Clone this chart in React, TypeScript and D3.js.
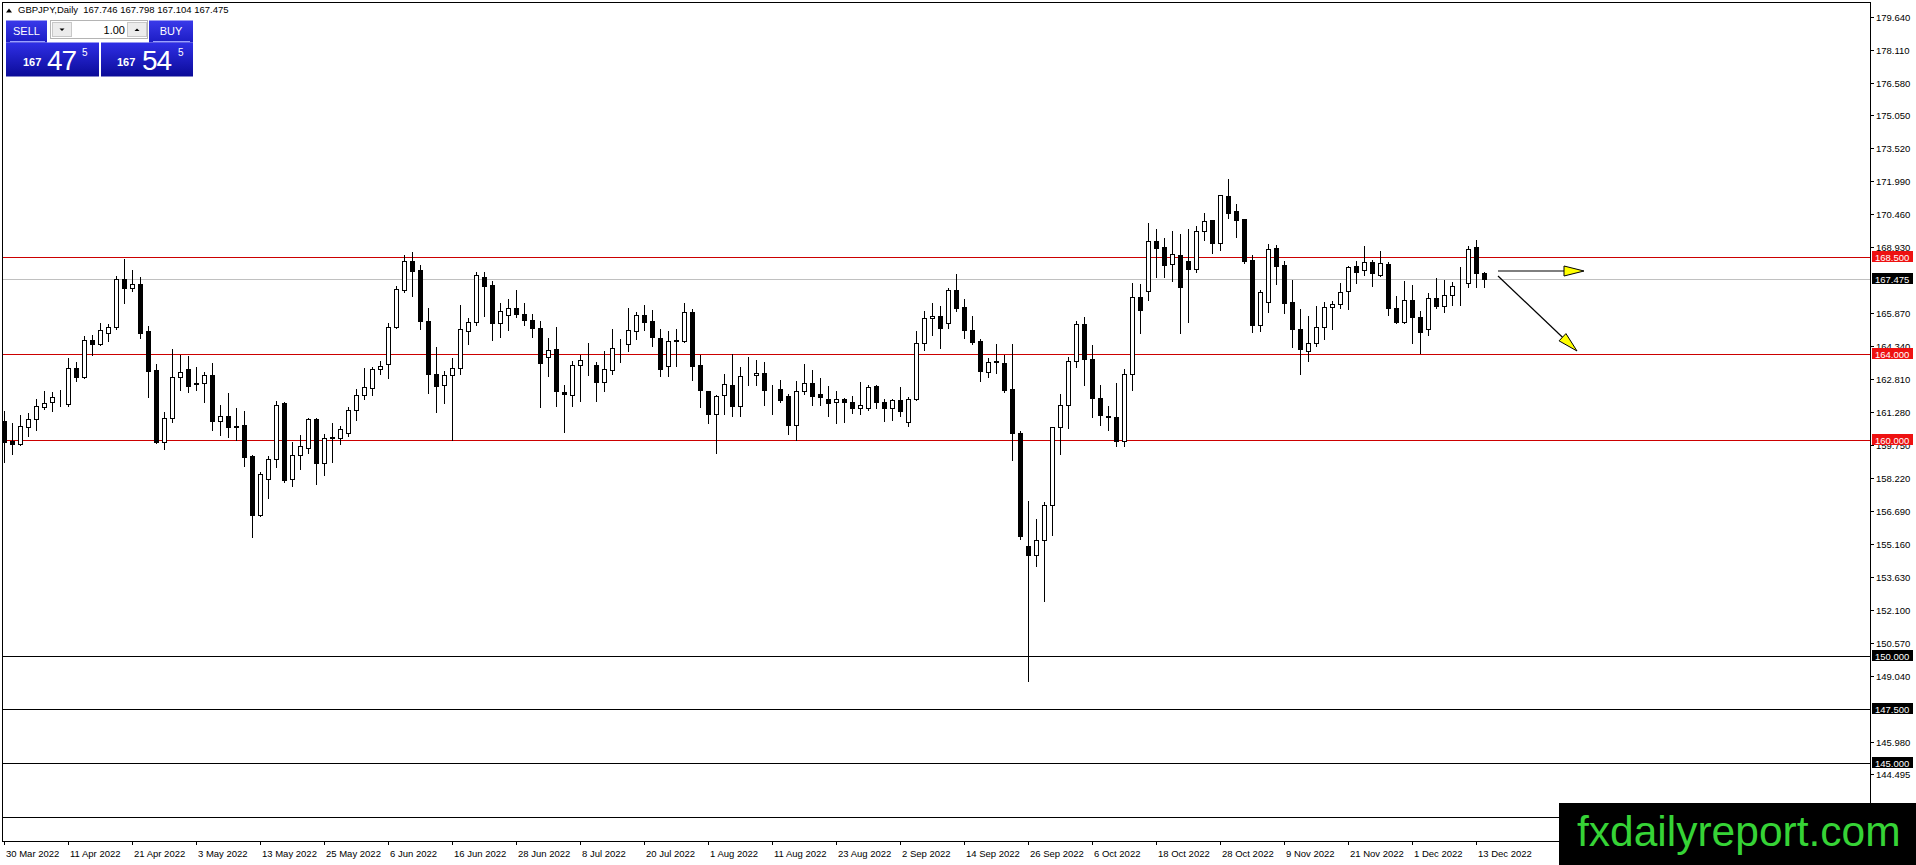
import React from 'react'
import * as d3 from 'd3'

// GBPJPY daily candles, 30 Mar 2022 .. 15 Dec 2022
const opens = [
  160.86, 159.95, 159.83, 160.6, 160.99, 161.53, 161.78, 161.98, 161.65, 163.32,
  162.92, 164.62, 164.45, 164.98, 165.24, 167.48, 167.06, 167.22, 165.04, 163.23,
  159.91, 161.03, 162.92, 163.28, 162.6, 162.64, 163.02, 160.88, 161.13, 160.63,
  160.67, 159.27, 156.5, 158.2, 159.12, 161.69, 158.19, 159.32, 159.63, 160.98,
  158.93, 160.1, 160.1, 160.33, 161.41, 162.09, 162.42, 163.3, 163.53, 165.26,
  166.96, 168.31, 167.86, 165.53, 163.07, 162.53, 163.02, 163.35, 165.07, 165.47,
  167.58, 167.18, 165.44, 165.81, 166.14, 165.86, 165.58, 165.21, 163.83, 164.2,
  162.23, 162.08, 163.49, 163.43, 163.46, 162.7, 163.26, 164.3, 164.47, 165.05,
  165.78, 165.53, 164.74, 163.43, 164.6, 164.6, 165.95, 163.46, 162.25, 161.19,
  162.08, 162.57, 161.57, 163.05, 163.02, 163.12, 162.36, 162.34, 162.03, 160.68,
  162.26, 162.65, 162.11, 161.88, 161.77, 161.92, 161.78, 161.49, 161.49, 162.48,
  161.78, 161.47, 161.86, 160.84, 161.91, 164.51, 165.67, 165.77, 165.44, 166.95,
  166.17, 165.09, 164.59, 163.16, 163.64, 163.58, 162.34, 160.32, 155.07, 154.66,
  155.35, 156.99, 160.6, 161.62, 163.67, 165.38, 163.75, 161.94, 161.1, 161.06,
  159.95, 163.05, 166.62, 166.93, 169.23, 168.93, 168.15, 168.56, 168.3, 167.94,
  169.69, 170.2, 169.15, 171.31, 170.61, 170.24, 168.35, 165.34, 166.42, 168.89,
  168.11, 166.4, 165.15, 164.12, 164.48, 165.24, 166.18, 166.3, 166.93, 168.07,
  167.89, 168.24, 167.64, 168.16, 166.12, 165.46, 166.5, 165.69, 165.15, 166.58,
  166.23, 166.7, 167.2, 167.27, 168.93, 167.746,
]
const highs = [
  161.33, 160.8, 161.14, 161.27, 161.92, 162.26, 162.21, 162.3, 163.8, 163.6,
  164.82, 164.85, 165.42, 165.36, 167.6, 168.38, 167.87, 167.56, 165.27, 163.54,
  161.3, 164.2, 163.96, 163.88, 163.4, 163.16, 163.58, 161.6, 162.16, 161.5,
  161.32, 159.3, 158.5, 159.27, 161.8, 161.77, 159.9, 160.22, 161.0, 161.0,
  160.28, 160.79, 160.64, 161.52, 162.34, 163.32, 163.4, 163.66, 165.44, 167.15,
  168.57, 168.74, 168.11, 166.14, 164.33, 163.18, 163.78, 166.25, 165.66, 167.81,
  167.81, 167.38, 166.34, 166.53, 166.96, 166.34, 165.83, 165.52, 164.74, 165.26,
  162.57, 163.66, 163.92, 164.48, 163.61, 164.12, 165.16, 164.7, 166.11, 165.95,
  166.25, 166.03, 165.13, 165.05, 165.13, 166.34, 166.09, 163.92, 162.27, 162.08,
  163.04, 163.97, 163.38, 163.83, 163.7, 163.63, 162.53, 162.8, 162.11, 162.73,
  163.53, 163.24, 162.85, 162.5, 162.28, 161.95, 162.03, 162.67, 162.57, 162.57,
  161.88, 161.88, 162.47, 161.97, 165.07, 166.0, 166.34, 166.22, 167.04, 167.69,
  166.53, 165.75, 164.67, 163.81, 164.43, 163.92, 164.43, 160.4, 157.19, 156.35,
  157.11, 160.62, 162.14, 163.84, 165.54, 165.72, 164.41, 162.56, 161.56, 162.64,
  163.3, 167.27, 167.22, 170.07, 169.78, 169.35, 169.69, 169.55, 169.77, 169.92,
  170.55, 170.22, 171.38, 172.1, 170.94, 170.26, 168.58, 166.96, 169.09, 169.02,
  168.31, 167.42, 166.07, 165.74, 166.2, 166.38, 166.43, 167.3, 168.07, 168.32,
  168.99, 168.35, 168.78, 168.27, 166.66, 167.38, 167.19, 166.0, 166.81, 167.49,
  167.42, 167.32, 168.01, 168.99, 169.27, 167.798,
]
const lows = [
  158.98, 159.37, 159.78, 160.18, 160.45, 161.42, 161.33, 161.58, 161.58, 162.73,
  162.87, 163.96, 164.42, 164.59, 165.15, 166.37, 166.91, 164.74, 161.99, 159.88,
  159.6, 160.83, 162.3, 162.22, 162.31, 161.75, 160.45, 160.25, 160.12, 160.0,
  158.78, 155.52, 156.45, 157.3, 158.74, 158.05, 157.85, 158.67, 159.4, 157.95,
  158.36, 158.96, 159.83, 160.2, 160.91, 161.9, 162.08, 163.04, 162.88, 165.21,
  166.87, 166.68, 165.13, 162.19, 161.29, 161.72, 160.0, 163.04, 164.47, 165.35,
  165.75, 164.64, 164.78, 165.1, 165.72, 165.35, 164.78, 161.52, 162.96, 161.57,
  160.36, 161.57, 161.8, 163.0, 161.8, 162.29, 163.07, 163.61, 164.12, 164.67,
  165.1, 164.36, 162.96, 162.96, 163.43, 164.55, 162.8, 161.52, 160.79, 159.4,
  161.19, 161.1, 161.1, 162.53, 162.57, 161.64, 161.22, 161.75, 160.29, 160.0,
  162.14, 161.64, 161.6, 161.13, 160.78, 160.82, 161.26, 161.18, 161.41, 161.47,
  160.87, 160.91, 161.1, 160.64, 161.83, 164.17, 164.87, 164.25, 165.18, 165.98,
  164.74, 164.43, 162.73, 162.93, 163.12, 162.22, 159.09, 155.41, 148.82, 154.15,
  152.53, 155.57, 159.36, 160.54, 163.36, 162.56, 161.05, 160.71, 160.44, 159.7,
  159.7, 162.3, 164.95, 166.49, 167.57, 167.57, 167.37, 164.95, 165.49, 167.81,
  169.27, 168.69, 168.81, 170.31, 169.43, 168.22, 164.99, 165.06, 165.95, 167.23,
  165.91, 164.33, 163.07, 163.66, 164.35, 164.69, 165.15, 166.12, 166.07, 167.3,
  167.66, 167.12, 167.61, 165.81, 165.44, 165.44, 164.51, 164.01, 164.89, 166.12,
  165.92, 166.24, 166.27, 167.09, 167.09, 167.104,
]
const closes = [
  159.91, 159.83, 160.63, 160.99, 161.56, 161.73, 161.98, 162.0, 163.32, 162.92,
  164.62, 164.45, 165.12, 165.25, 167.48, 167.06, 167.22, 164.96, 163.2, 159.91,
  161.03, 162.94, 163.17, 162.5, 162.65, 163.02, 160.87, 161.09, 160.59, 160.6,
  159.21, 156.5, 158.43, 159.1, 161.63, 158.16, 159.32, 159.74, 160.98, 158.93,
  160.1, 160.12, 160.51, 161.41, 162.09, 162.47, 163.3, 163.43, 165.26, 166.99,
  168.31, 167.84, 165.53, 163.05, 162.5, 163.02, 163.35, 165.16, 165.47, 167.67,
  167.15, 165.44, 165.97, 166.14, 165.86, 165.58, 165.21, 163.58, 164.19, 162.26,
  162.14, 163.49, 163.72, 163.41, 162.68, 163.27, 164.28, 164.32, 165.12, 165.78,
  165.49, 164.78, 163.3, 164.6, 164.62, 165.95, 163.43, 162.31, 161.19, 162.06,
  162.6, 161.57, 162.98, 163.07, 163.12, 162.31, 162.34, 161.84, 160.68, 162.28,
  162.65, 162.06, 161.97, 161.69, 161.92, 161.75, 161.47, 161.6, 162.47, 161.77,
  161.47, 161.86, 161.33, 161.91, 164.51, 165.67, 165.77, 165.18, 166.95, 166.12,
  165.1, 164.54, 163.19, 163.63, 163.6, 162.31, 160.3, 155.54, 154.66, 155.38,
  156.96, 160.6, 161.62, 163.67, 165.38, 163.75, 161.93, 161.14, 161.08, 159.95,
  163.05, 166.62, 166.03, 169.23, 168.92, 168.11, 168.61, 167.08, 167.94, 169.69,
  170.17, 169.15, 171.36, 170.55, 170.2, 168.31, 165.34, 166.85, 168.84, 168.08,
  166.34, 165.14, 164.2, 164.48, 165.24, 166.18, 166.3, 166.87, 168.01, 167.81,
  168.24, 167.73, 168.19, 166.12, 165.46, 166.5, 165.69, 165.0, 166.58, 166.2,
  166.7, 167.16, 167.21, 168.88, 167.73, 167.475,
]

// one date label every 8 bars
const dateLabels = [
  '30 Mar 2022', '11 Apr 2022', '21 Apr 2022', '3 May 2022', '13 May 2022', '25 May 2022',
  '6 Jun 2022', '16 Jun 2022', '28 Jun 2022', '8 Jul 2022', '20 Jul 2022', '1 Aug 2022',
  '11 Aug 2022', '23 Aug 2022', '2 Sep 2022', '14 Sep 2022', '26 Sep 2022', '6 Oct 2022',
  '18 Oct 2022', '28 Oct 2022', '9 Nov 2022', '21 Nov 2022', '1 Dec 2022', '13 Dec 2022',
]
const labelEvery = 8

const priceTicks = [
  '179.640', '178.110', '176.580', '175.050', '173.520', '171.990', '170.460', '168.930',
  '167.400', '165.870', '164.340', '162.810', '161.280', '159.750', '158.220', '156.690',
  '155.160', '153.630', '152.100', '150.570', '149.040', '147.510', '145.980', '144.495',
]

const redLevels = [168.5, 164.0, 160.0]
const blackLevels = [150.0, 147.5, 145.0, 142.5]
const lastPrice = 167.475
const headerText = 'GBPJPY,Daily  167.746 167.798 167.104 167.475'

const W = 1916
const H = 865
const left = 2
const top = 2
const right = 1870
const bottom = 841
const font = "'Liberation Sans', Arial, sans-serif"

function Candles({ x, y }: { x: d3.ScaleLinear<number, number>; y: d3.ScaleLinear<number, number> }) {
  return (
    <g shapeRendering="crispEdges">
      {opens.map((o, i) => {
        const cx = Math.round(x(i))
        const c = closes[i]
        const bull = c >= o
        const yTop = Math.round(y(Math.max(o, c)))
        const yBot = Math.round(y(Math.min(o, c)))
        return (
          <g key={i}>
            <line x1={cx + 0.5} x2={cx + 0.5} y1={Math.round(y(highs[i]))} y2={Math.round(y(lows[i])) + 1} stroke="#000" />
            <rect x={cx - 1.5} y={yTop + 0.5} width={4} height={Math.max(0, yBot - yTop)}
              fill={bull ? '#fff' : '#000'} stroke="#000" />
          </g>
        )
      })}
    </g>
  )
}

function LevelLabel({ yv, text, fill }: { yv: number; text: string; fill: string }) {
  return (
    <g>
      <rect x={right + 2} y={yv - 6} width={41} height={11} fill={fill} />
      <text x={right + 5} y={yv + 3.5} fontSize={9.5} fill="#fff" fontFamily={font}>{text}</text>
    </g>
  )
}

function TradePanel() {
  return (
    <g fontFamily={font}>
      <defs>
        <linearGradient id="blueBox" x1="0" y1="0" x2="0" y2="1">
          <stop offset="0" stopColor="#2f2fe6" />
          <stop offset="1" stopColor="#0b0b98" />
        </linearGradient>
        <linearGradient id="blueBtn" x1="0" y1="0" x2="0" y2="1">
          <stop offset="0" stopColor="#3a3aea" />
          <stop offset="1" stopColor="#1c1cc4" />
        </linearGradient>
      </defs>
      {/* sell / buy buttons */}
      <rect x={6} y={20.5} width={41} height={22} fill="url(#blueBtn)" />
      <line x1={10} x2={45} y1={41.5} y2={41.5} stroke="#9aa0ff" />
      <text x={26.5} y={35} textAnchor="middle" fontSize={11} fill="#fff">SELL</text>
      <rect x={149} y={20.5} width={44} height={22} fill="url(#blueBtn)" />
      <line x1={153} x2={190} y1={41.5} y2={41.5} stroke="#9aa0ff" />
      <text x={171} y={35} textAnchor="middle" fontSize={11} fill="#fff">BUY</text>
      {/* lot spinner */}
      <rect x={50.5} y={20.5} width={97} height={18} fill="#fff" stroke="#b4b4b4" />
      <rect x={52.5} y={22.5} width={19} height={14} fill="#ececec" stroke="#c8c8c8" />
      <rect x={127.5} y={22.5} width={19} height={14} fill="#ececec" stroke="#c8c8c8" />
      <path d="M59.5,28.5 L64.5,28.5 L62,31 Z" fill="#000" />
      <path d="M134.5,31 L139.5,31 L137,28.5 Z" fill="#000" />
      <text x={125} y={34} textAnchor="end" fontSize={11} fill="#000">1.00</text>
      {/* price boxes */}
      <rect x={6} y={42.5} width={93} height={34} fill="url(#blueBox)" />
      <rect x={101} y={42.5} width={92} height={34} fill="url(#blueBox)" />
      <text x={23} y={66} fontSize={11} fontWeight="bold" fill="#fff">167</text>
      <text x={47} y={70} fontSize={28} fill="#fff" letterSpacing={-1}>47</text>
      <text x={82} y={56} fontSize={10} fill="#fff">5</text>
      <text x={117} y={66} fontSize={11} fontWeight="bold" fill="#fff">167</text>
      <text x={142} y={70} fontSize={28} fill="#fff" letterSpacing={-1}>54</text>
      <text x={178} y={56} fontSize={10} fill="#fff">5</text>
    </g>
  )
}

function Arrow({ x1, y1, x2, y2 }: { x1: number; y1: number; x2: number; y2: number }) {
  const len = Math.hypot(x2 - x1, y2 - y1)
  const ux = (x2 - x1) / len
  const uy = (y2 - y1) / len
  const hl = 20
  const hw = 5
  const bx = x2 - ux * hl
  const by = y2 - uy * hl
  const head = `M${x2},${y2} L${bx - uy * hw},${by + ux * hw} L${bx + uy * hw},${by - ux * hw} Z`
  return (
    <g>
      <line x1={x1} y1={y1} x2={bx} y2={by} stroke="#000" strokeWidth={1.2} />
      <path d={head} fill="#ffff00" stroke="#000" strokeWidth={1} />
    </g>
  )
}

export default function App() {
  const x = d3.scaleLinear().domain([0, opens.length - 1]).range([4, 4 + 8 * (opens.length - 1)])
  const y = d3.scaleLinear().domain([141.395, 180.315]).range([bottom, top])
  const py = (v: number) => Math.round(y(v)) + 0.5
  const levelPrices = [...redLevels, ...blackLevels, lastPrice]
  // ticks fully covered by a level label are not drawn (hidden in the terminal too)
  const visibleTicks = priceTicks.filter(t => !levelPrices.some(l => Math.abs(y(l) - y(parseFloat(t))) < 3))

  return (
    <svg width={W} height={H} style={{ position: 'absolute', left: 0, top: 0, background: '#fff' }}>
      <rect x={0} y={0} width={W} height={H} fill="#fff" />

      {/* horizontal levels */}
      <g shapeRendering="crispEdges">
        <line x1={left} x2={right} y1={py(lastPrice)} y2={py(lastPrice)} stroke="#c0c0c0" />
        {redLevels.map(v => (
          <line key={v} x1={left} x2={right} y1={py(v)} y2={py(v)} stroke="#cc0000" />
        ))}
        {blackLevels.map(v => (
          <line key={v} x1={left} x2={right} y1={py(v)} y2={py(v)} stroke="#000" />
        ))}
      </g>

      <Candles x={x} y={y} />

      {/* chart frame */}
      <rect x={left + 0.5} y={top + 0.5} width={right - left} height={bottom - top}
        fill="none" stroke="#000" shapeRendering="crispEdges" />

      {/* price axis */}
      <g fontFamily={font} fontSize={9.5} fill="#000" shapeRendering="crispEdges">
        {visibleTicks.map(t => {
          const ty = Math.round(y(parseFloat(t)))
          return (
            <g key={t}>
              <line x1={right} x2={right + 4} y1={ty + 0.5} y2={ty + 0.5} stroke="#000" />
              <text x={right + 6} y={ty + 3.5}>{t}</text>
            </g>
          )
        })}
      </g>
      {redLevels.map(v => (
        <LevelLabel key={v} yv={Math.round(y(v))} text={v.toFixed(3)} fill="#ee1111" />
      ))}
      {blackLevels.map(v => (
        <LevelLabel key={v} yv={Math.round(y(v))} text={v.toFixed(3)} fill="#000" />
      ))}
      <LevelLabel yv={Math.round(y(lastPrice))} text={lastPrice.toFixed(3)} fill="#000" />

      {/* time axis */}
      <g fontFamily={font} fontSize={9.5} fill="#000" shapeRendering="crispEdges">
        {dateLabels.map((d, k) => {
          const tx = Math.round(x(k * labelEvery))
          return (
            <g key={d}>
              <line x1={tx + 0.5} x2={tx + 0.5} y1={bottom} y2={bottom + 4} stroke="#000" />
              <text x={tx + 2} y={857}>{d}</text>
            </g>
          )
        })}
      </g>

      {/* header */}
      <path d="M6,12.5 L12,12.5 L9,8.5 Z" fill="#000" />
      <text x={18} y={13} fontFamily={font} fontSize={9.5} fill="#000" style={{ whiteSpace: 'pre' }}>{headerText}</text>

      <TradePanel />

      <Arrow x1={1498} y1={271} x2={1584} y2={271} />
      <Arrow x1={1498} y1={276} x2={1577} y2={351} />

      {/* watermark */}
      <rect x={1559} y={803} width={357} height={62} fill="#000" />
      <text x={1577} y={846} fontFamily={font} fontSize={42.5} fill="#36d336">fxdailyreport.com</text>
    </svg>
  )
}
